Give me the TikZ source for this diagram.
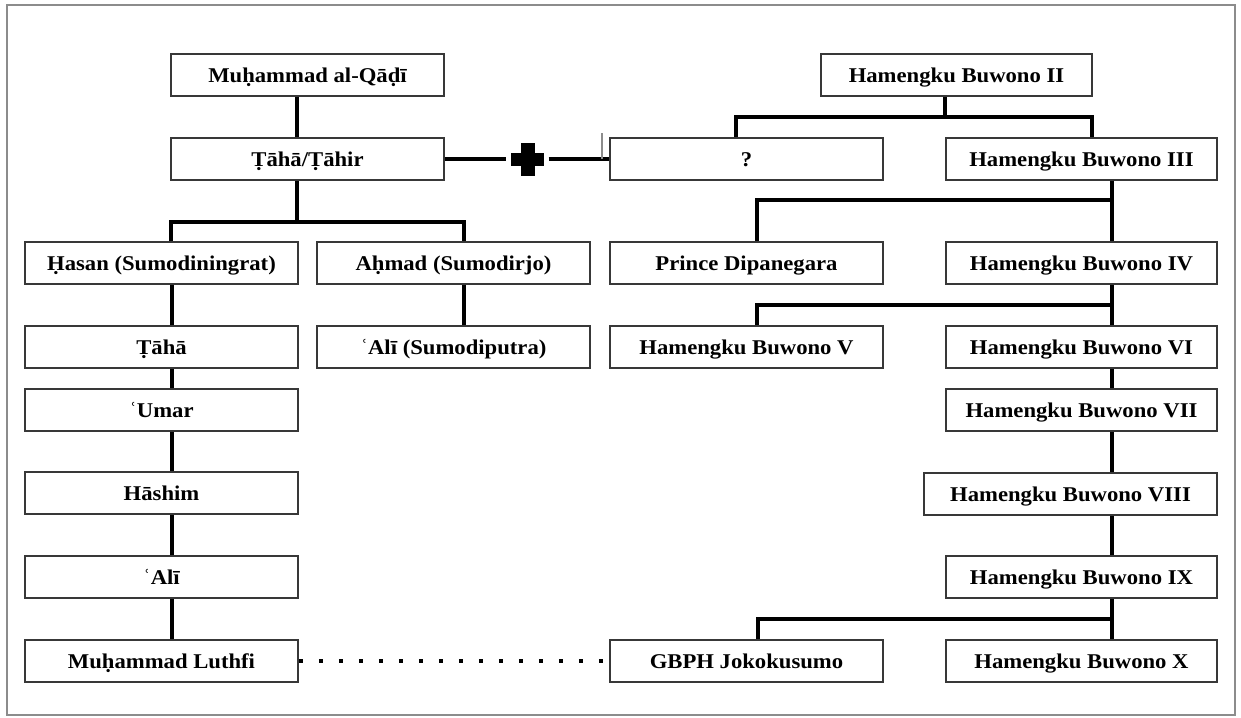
\documentclass[tikz,border=0pt]{standalone}
\usepackage{fontspec}
\setmainfont{Liberation Serif}[FakeStretch=1.08]
\begin{document}
\begin{tikzpicture}[x=1pt,y=-1pt,
  box/.style={draw=black!78, line width=1.6pt, fill=white, minimum height=42pt,
    minimum width=273pt, inner sep=0pt, text height=17.5pt, text depth=2pt,
    font=\fontsize{21}{25}\selectfont\bfseries},
  conn/.style={line width=3.5pt, black},
  frame/.style={draw=black!45, line width=2pt}
]
\useasboundingbox (0,0) rectangle (1241,717);
\draw[frame] (7,5) rectangle (1235,715);

% left family
\node[box] (qadi)   at (307.5,75)  {Muḥammad al-Qāḍī};
\node[box] (tahir)  at (307.5,159) {Ṭāhā/Ṭāhir};
\node[box] (hasan)  at (161.5,263) {Ḥasan (Sumodiningrat)};
\node[box] (ahmad)  at (453.5,263) {Aḥmad (Sumodirjo)};
\node[box] (taha)   at (161.5,347) {Ṭāhā};
\node[box] (alis)   at (453.5,347) {ʿAlī (Sumodiputra)};
\node[box] (umar)   at (161.5,410) {ʿUmar};
\node[box] (hashim) at (161.5,493) {Hāshim};
\node[box] (ali)    at (161.5,577) {ʿAlī};
\node[box] (luthfi) at (161.5,661) {Muḥammad Luthfi};

% right family
\node[box, minimum width=271pt] (hb2)  at (956.5,75)   {Hamengku Buwono II};
\node[box] (q)      at (746.5,159)  {?};
\node[box, minimum width=271pt] (hb3)  at (1081.5,159) {Hamengku Buwono III};
\node[box] (prince) at (746.5,263)  {Prince Dipanegara};
\node[box, minimum width=271pt] (hb4)  at (1081.5,263) {Hamengku Buwono IV};
\node[box] (hb5)    at (746.5,347)  {Hamengku Buwono V};
\node[box, minimum width=271pt] (hb6)  at (1081.5,347) {Hamengku Buwono VI};
\node[box, minimum width=271pt] (hb7)  at (1081.5,410) {Hamengku Buwono VII};
\node[box, minimum width=293pt] (hb8)  at (1070.5,494) {Hamengku Buwono VIII};
\node[box, minimum width=271pt] (hb9)  at (1081.5,577) {Hamengku Buwono IX};
\node[box, minimum width=271pt] (hb10) at (1081.5,661) {Hamengku Buwono X};
\node[box] (gbph)   at (746.5,661)  {GBPH Jokokusumo};

% left connectors
\coordinate (tx) at (297,222);
\coordinate (bl) at (171,222);
\coordinate (br) at (464,222);
\coordinate (lx) at (172,0);
\draw[conn] (qadi.south -| tx) -- (tahir.north -| tx);
\draw[conn] (tahir.south -| tx) -- (tx);
\draw[conn] (hasan.north -| bl) -- (bl) -- (br) -- (ahmad.north -| br);
\foreach \a/\b in {hasan/taha, taha/umar, umar/hashim, hashim/ali, ali/luthfi}
  \draw[conn] (\a.south -| lx) -- (\b.north -| lx);
\draw[conn] (ahmad.south -| br) -- (alis.north -| br);

% marriage link
\coordinate (plus) at (527.5,159);
\draw[conn] (tahir.east) -- ([xshift=-22pt]plus);
\draw[conn] ([xshift=21pt]plus) -- (q.west);
\fill (plus) +(-16.5,-6.5) rectangle +(16.5,6.5);
\fill (plus) +(-7,-16.5) rectangle +(7,16.5);
\draw[black!45, line width=1.8pt] ([xshift=-7pt]q.west) -- ++(0,-26);

% right connectors
\coordinate (hx) at (945,117);
\coordinate (ql) at (736,117);
\coordinate (qr) at (1092,117);
\coordinate (vx) at (1112,0);
\coordinate (b1) at (757,200);
\coordinate (b2) at (757,305);
\coordinate (b3) at (758,619);
\draw[conn] (hb2.south -| hx) -- (hx);
\draw[conn] (q.north -| ql) -- (ql) -- (qr) -- (hb3.north -| qr);
\draw[conn] (hb3.south -| vx) -- (hb4.north -| vx);
\draw[conn] (prince.north -| b1) -- (b1) -- (b1 -| vx);
\draw[conn] (hb4.south -| vx) -- (hb6.north -| vx);
\draw[conn] (hb5.north -| b2) -- (b2) -- (b2 -| vx);
\foreach \a/\b in {hb6/hb7, hb7/hb8, hb8/hb9, hb9/hb10}
  \draw[conn] (\a.south -| vx) -- (\b.north -| vx);
\draw[conn] (gbph.north -| b3) -- (b3) -- (b3 -| vx);

% dotted link
\draw[line width=4pt, dash pattern=on 4pt off 16pt] (luthfi.east) -- (gbph.west);
\end{tikzpicture}
\end{document}
